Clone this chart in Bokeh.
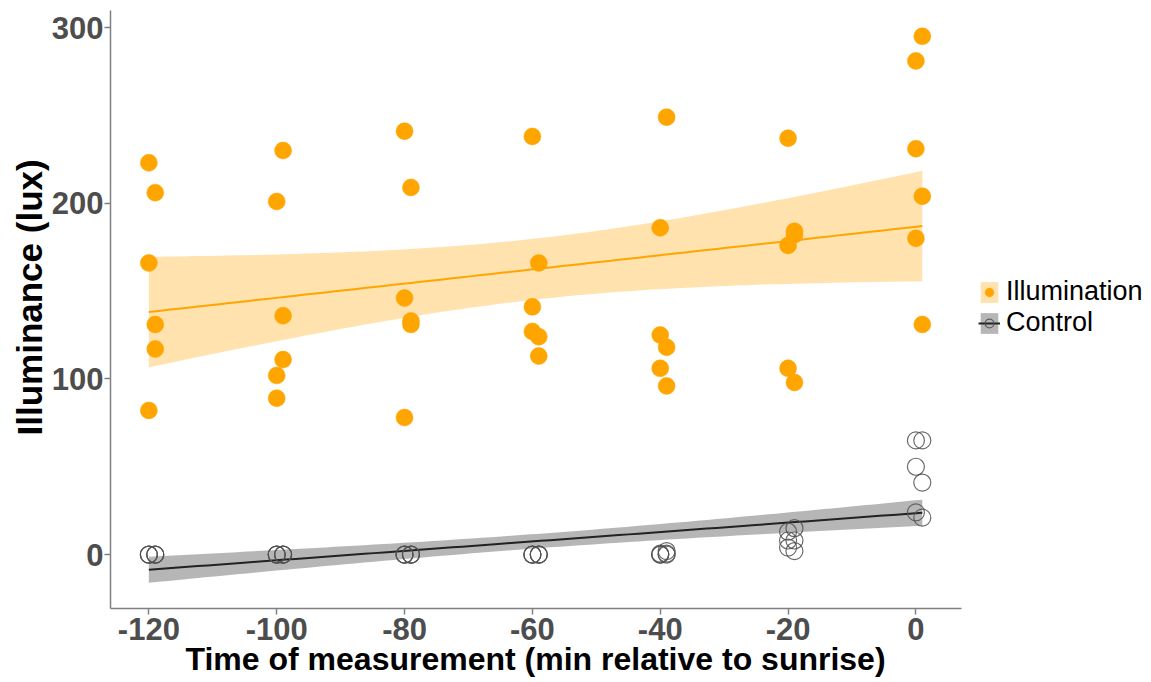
import numpy as np
from bokeh.plotting import figure
from bokeh.models import ColumnDataSource, Range1d, FixedTicker, Legend, LegendItem, Title
from bokeh.embed import file_html
from bokeh.resources import INLINE

# ---- data ----
illum_x = [-120, -119, -120, -119, -119, -120,
           -99, -100, -99, -99, -100, -100,
           -80, -79, -80, -79, -79, -80,
           -60, -59, -60, -60, -59, -59,
           -39, -40, -40, -39, -40, -39,
           -20, -19, -20, -19, -20, -19,
           1, 0, 0, 1, 0, 1]
illum_y = [223, 206, 166, 131, 117, 82,
           230, 201, 136, 111, 102, 89,
           241, 209, 146, 133, 131, 78,
           238, 166, 141, 127, 124, 113,
           249, 186, 125, 118, 106, 96,
           237, 184, 176, 182, 106, 98,
           295, 281, 231, 204, 180, 131]

ctrl_x = [-120, -120, -120, -119, -119, -119,
          -100, -100, -100, -99, -99, -99,
          -80, -80, -80, -79, -79, -79,
          -60, -60, -60, -59, -59, -59,
          -40, -40, -40, -39, -39, -39,
          -19, -20, -19, -20, -20, -19,
          0, 1, 0, 1, 0, 1]
ctrl_y = [0, 0, 0, 0, 0, 0,
          0, 0, 0, 0, 0, 0,
          0, 0, 0, 0, 0, 0,
          0, 0, 0, 0, 0, 0,
          0, 0, 0.5, 0, 0.5, 2,
          15, 13, 8, 8, 4, 2,
          65, 65, 50, 41, 24, 21]

x_ticks = [-120, -100, -80, -60, -40, -20, 0]
x_tick_labels = ["-120", "-100", "-80", "-60", "-40", "-20", "0"]
y_ticks = [0, 100, 200, 300]
series_names = ["Illumination", "Control"]
x_title = "Time of measurement (min relative to sunrise)"
y_title = "Illuminance (lux)"

ORANGE = "#FFA500"
TICK_GRAY = "#4D4D4D"
AXIS_GRAY = "#808080"

X_MIN, X_MAX = -126, 7.2       # data window of the axis
X_PANEL_MAX = 36.7             # frame extends to the right to hold the legend


def lm_band(x, y, t=2.021, n_grid=80):
    x = np.asarray(x, float)
    y = np.asarray(y, float)
    n = len(x)
    xm = x.mean()
    sxx = ((x - xm) ** 2).sum()
    b = ((x - xm) * (y - y.mean())).sum() / sxx
    a = y.mean() - b * xm
    res = y - (a + b * x)
    s = np.sqrt((res ** 2).sum() / (n - 2))
    g = np.linspace(x.min(), x.max(), n_grid)
    fit = a + b * g
    se = s * np.sqrt(1.0 / n + (g - xm) ** 2 / sxx)
    return g, fit, fit - t * se, fit + t * se


p = figure(width=1150, height=681, output_backend="svg", toolbar_location=None,
           x_range=Range1d(X_MIN, X_PANEL_MAX), y_range=Range1d(-30.7, 309.7),
           min_border_left=110, min_border_top=10, min_border_right=0,
           min_border_bottom=73)
p.outline_line_color = None
p.xgrid.visible = False
p.ygrid.visible = False
p.background_fill_color = "white"
p.border_fill_color = "white"

# Illumination fit
gx, fit, lo, hi = lm_band(illum_x, illum_y)
src_i = ColumnDataSource(dict(x=gx, fit=fit, lo=lo, hi=hi))
r_iband = p.varea(x="x", y1="lo", y2="hi", source=src_i, fill_color=ORANGE, fill_alpha=0.32)
r_iline = p.line(x="x", y="fit", source=src_i, line_color=ORANGE, line_width=2)

# Control fit
gx2, fit2, lo2, hi2 = lm_band(ctrl_x, ctrl_y, t=2.021)
src_c = ColumnDataSource(dict(x=gx2, fit=fit2, lo=lo2, hi=hi2))
r_cband = p.varea(x="x", y1="lo", y2="hi", source=src_c, fill_color="#7a7a7a", fill_alpha=0.55)
r_cline = p.line(x="x", y="fit", source=src_c, line_color="#222222", line_width=2)

# points
r_ipts = p.scatter(illum_x, illum_y, size=17, fill_color=ORANGE, line_color=ORANGE,
                   line_width=0.5)
r_cpts = p.scatter(ctrl_x, ctrl_y, size=17, fill_color=None, line_color="#505050",
                   line_width=1.2, line_alpha=0.85)

# axes
for ax in (p.xaxis[0], p.yaxis[0]):
    ax.axis_line_color = AXIS_GRAY
    ax.axis_line_width = 1.5
    ax.major_tick_line_color = AXIS_GRAY
    ax.major_tick_line_width = 1.5
    ax.major_tick_out = 6
    ax.major_tick_in = 0
    ax.minor_tick_line_color = None
    ax.major_label_text_font = "Liberation Sans"
    ax.major_label_text_font_style = "bold"
    ax.major_label_text_color = TICK_GRAY
    ax.major_label_text_font_size = "31px"

p.xaxis[0].major_label_standoff = 3
p.yaxis[0].major_label_standoff = 1
p.xaxis[0].bounds = (X_MIN, X_MAX)
p.xaxis.ticker = FixedTicker(ticks=x_ticks)
p.yaxis.ticker = FixedTicker(ticks=y_ticks)
p.xaxis.major_label_overrides = {t: s for t, s in zip(x_ticks, x_tick_labels)}

# axis titles as panel titles, aligned to the data window
xt = Title(text=x_title, align="left", offset=75, standoff=-8,
           text_font="Liberation Sans", text_font_style="bold",
           text_font_size="32px", text_color="black")
p.add_layout(xt, "below")
yt = Title(text=y_title, align="left", offset=173, standoff=0,
           text_font="Liberation Sans", text_font_style="bold",
           text_font_size="35px", text_color="black")
p.add_layout(yt, "left")

legend = Legend(items=[
    LegendItem(label=series_names[0], renderers=[r_iband, r_ipts]),
    LegendItem(label=series_names[1], renderers=[r_cband, r_cline, r_cpts]),
], location=(868, 270))
legend.label_text_font = "Liberation Sans"
legend.label_text_font_size = "27px"
legend.label_text_color = "black"
legend.glyph_width = 22
legend.glyph_height = 26
legend.label_height = 26
legend.spacing = 0
legend.padding = 0
legend.margin = 0
legend.label_standoff = 6
legend.border_line_color = None
legend.background_fill_color = None
p.add_layout(legend, "center")

open("out.html", "w").write(file_html(p, INLINE))
